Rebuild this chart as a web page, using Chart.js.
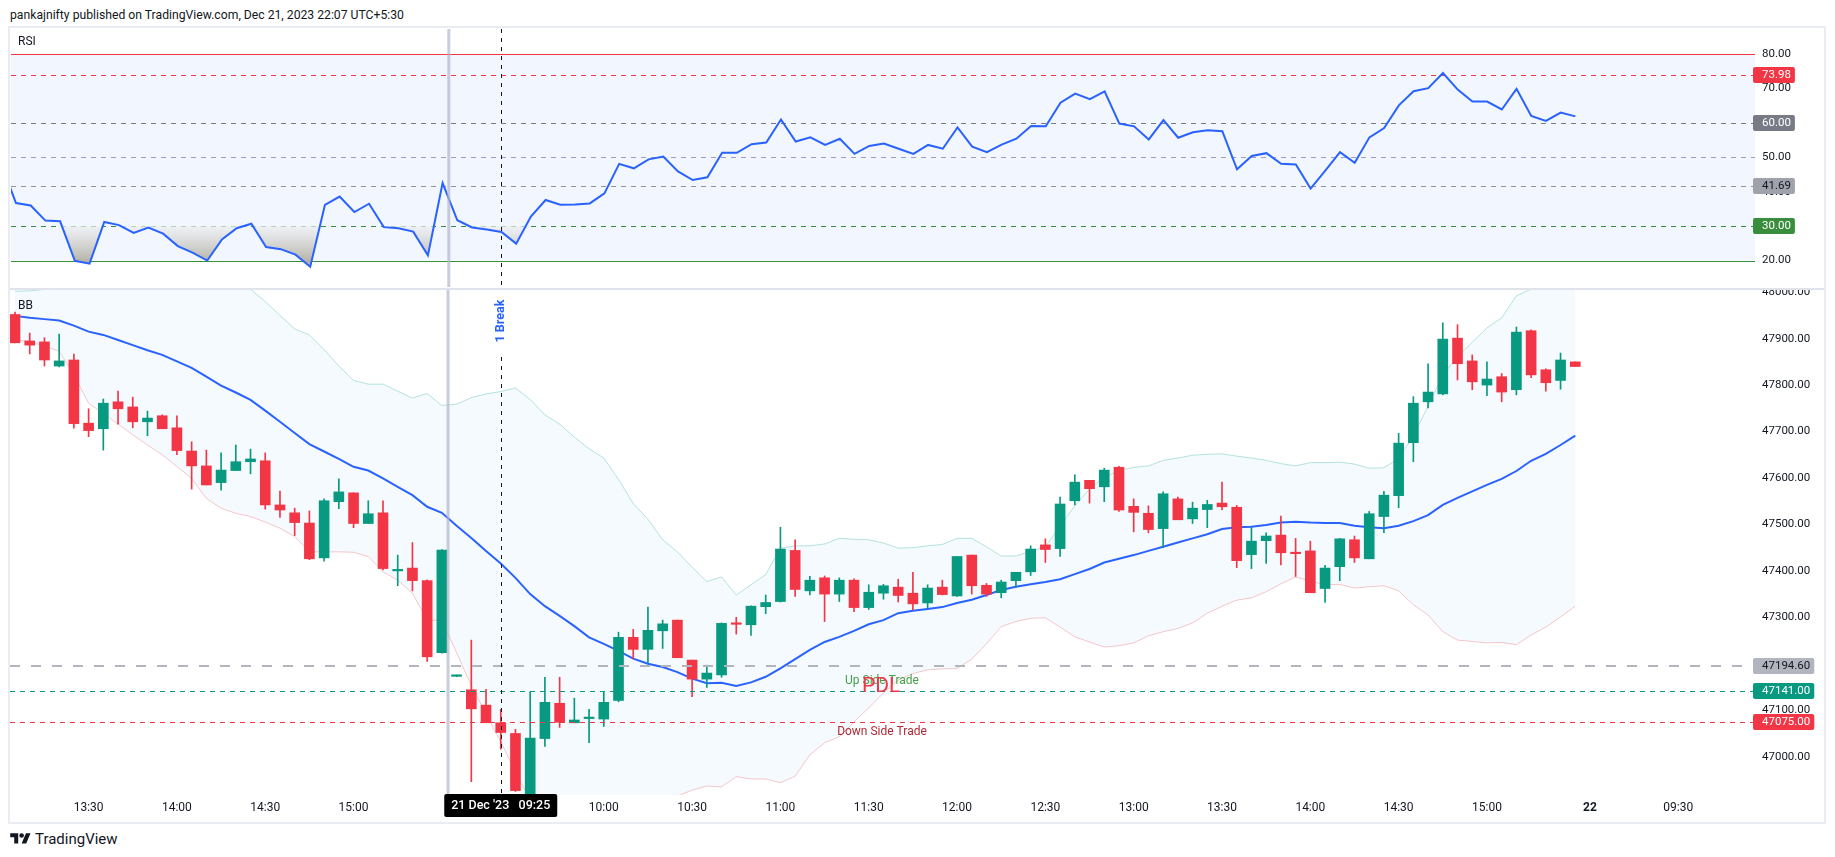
<!DOCTYPE html>
<html>
<head>
<meta charset="utf-8">
<script src="https://cdn.jsdelivr.net/npm/chart.js@4.4.1/dist/chart.umd.min.js"></script>
<style>
  body { margin: 0; background: #fff; }
  #page { position: relative; width: 1835px; height: 857px; overflow: hidden; font-family: Roboto, "Noto Sans", sans-serif; color: #131722; }
  #hdr { position: absolute; left: 10px; top: 6px; font-size: 12.2px; line-height: 18px; white-space: nowrap; }
  #frame { position: absolute; left: 8px; top: 26px; width: 1814px; height: 794px; border: 2px solid #e9ecf2; }
  #sep { position: absolute; left: 10px; top: 288px; width: 1814px; height: 2px; background: #e0e3eb; }
  canvas { position: absolute; left: 10px; }
  #rsiChart { top: 28px; }
  #priceChart { top: 290px; }
  #brand { position: absolute; left: 10px; top: 830px; height: 18px; display: flex; align-items: center; font-size: 15px; }
  #brand svg { margin-right: 4px; }
</style>
</head>
<body>
<div id="page">
  <div id="hdr">pankajnifty published on TradingView.com, Dec 21, 2023 22:07 UTC+5:30</div>
  <div id="frame"></div>
  <canvas id="rsiChart" width="1814" height="260"></canvas>
  <div id="sep"></div>
  <canvas id="priceChart" width="1814" height="530"></canvas>
  <div id="brand">
    <svg width="21" height="16" viewBox="0 0 36 28"><path d="M14 22H7V11H0V4h14v18zM28 22h-8l7.5-18h8L28 22z" fill="#131722"/><circle cx="20" cy="8" r="4" fill="#131722"/></svg>
    <span>TradingView</span>
  </div>
</div>
<script>
// ── Data ──────────────────────────────────────────────────
// 5-minute candles, index 0 = 21 Dec 13:05 ... index 106 = 22 Dec 15:30
const open = [47952,47895,47893,47841,47854,47718,47706,47764,47753,47721,
  47734,47708,47658,47626,47590,47616,47635,47637,47542,47525,
  47503,47428,47549,47568,47502,47525,47400,47406,47379,47224,
  47173,47144,47111,47073,47050,46900,47039,47115,47073,47082,
  47081,47121,47257,47231,47271,47294,47208,47167,47176,47287,
  47284,47323,47334,47444,47357,47385,47350,47380,47321,47352,
  47365,47352,47331,47365,47346,47434,47369,47353,47379,47398,
  47456,47448,47551,47595,47581,47623,47539,47524,47491,47555,
  47512,47532,47546,47537,47435,47465,47477,47438,47443,47362,
  47409,47467,47426,47517,47562,47676,47764,47781,47901,47852,
  47800,47818,47790,47917,47833,47810,47850];
const high = [47957,47912,47902,47910,47867,47749,47770,47787,47774,47744,
  47736,47734,47678,47660,47654,47671,47662,47654,47572,47535,
  47529,47555,47598,47568,47551,47551,47434,47461,47381,47446,
  47176,47251,47145,47102,47059,47140,47171,47171,47126,47102,
  47140,47268,47274,47322,47294,47294,47208,47197,47288,47300,
  47325,47348,47494,47467,47388,47389,47385,47383,47370,47371,
  47382,47397,47370,47380,47431,47434,47373,47380,47397,47454,
  47469,47559,47607,47595,47621,47625,47555,47540,47570,47559,
  47548,47552,47591,47541,47494,47482,47518,47470,47464,47412,
  47470,47475,47528,47571,47696,47775,47846,47934,47930,47865,
  47850,47825,47925,47919,47835,47869,47850];
const low = [47891,47867,47841,47839,47707,47689,47660,47716,47708,47691,
  47706,47650,47576,47585,47574,47616,47609,47533,47515,47476,
  47424,47421,47534,47493,47502,47402,47368,47357,47205,47223,
  47172,46946,47073,47016,46925,46880,47022,47063,47073,47030,
  47065,47118,47211,47201,47233,47213,47129,47149,47171,47264,
  47261,47308,47333,47345,47348,47291,47334,47312,47317,47339,
  47333,47316,47320,47348,47345,47350,47345,47342,47365,47390,
  47418,47431,47542,47546,47549,47528,47484,47482,47450,47510,
  47502,47493,47532,47407,47405,47416,47413,47388,47353,47332,
  47379,47418,47426,47482,47536,47635,47751,47779,47811,47790,
  47777,47764,47779,47816,47787,47791,47840];
const close = [47891,47886,47854,47852,47717,47702,47761,47749,47721,47729,
  47706,47659,47626,47585,47617,47635,47641,47542,47531,47504,
  47426,47551,47570,47502,47523,47405,47402,47379,47215,47445,
  47175,47103,47073,47052,46927,47040,47117,47074,47079,47084,
  47117,47257,47231,47272,47286,47213,47167,47180,47287,47285,
  47324,47332,47447,47360,47380,47350,47380,47321,47354,47368,
  47347,47329,47363,47349,47431,47368,47350,47376,47397,47447,
  47446,47544,47591,47577,47617,47531,47526,47489,47566,47510,
  47535,47543,47538,47422,47464,47475,47439,47437,47353,47406,
  47469,47428,47523,47563,47675,47761,47785,47899,47846,47807,
  47813,47785,47914,47822,47805,47854,47840];

// Bollinger Bands
const bbBasis = [47949,47945,47942,47939,47928,47915,47908,47897,47886,47875,
  47865,47851,47837,47818,47799,47784,47768,47745,47721,47697,
  47673,47657,47641,47624,47616,47599,47581,47563,47538,47525,
  47497,47471,47443,47416,47385,47350,47324,47303,47281,47257,
  47243,47228,47211,47200,47193,47182,47168,47158,47159,47152,
  47160,47172,47190,47210,47230,47247,47258,47271,47285,47294,
  47309,47314,47318,47322,47331,47338,47348,47359,47366,47371,
  47376,47382,47393,47404,47418,47426,47434,47443,47452,47461,
  47470,47479,47490,47494,47495,47499,47504,47506,47504,47503,
  47503,47497,47494,47492,47497,47507,47520,47542,47557,47571,
  47585,47598,47615,47637,47652,47671,47691];
const bbUpper = [48002,48003,48006,48012,48030,48045,48055,48062,48068,48070,
  48068,48062,48055,48045,48032,48018,48006,47980,47950,47921,
  47908,47876,47841,47810,47802,47802,47787,47772,47782,47756,
  47759,47773,47781,47786,47794,47769,47736,47716,47688,47663,
  47643,47597,47545,47511,47467,47441,47408,47377,47387,47348,
  47370,47392,47449,47454,47454,47458,47470,47468,47467,47460,
  47449,47450,47454,47457,47470,47470,47452,47432,47432,47442,
  47452,47497,47540,47576,47602,47616,47623,47626,47638,47643,
  47649,47651,47652,47647,47643,47638,47631,47626,47633,47633,
  47634,47630,47621,47622,47642,47690,47755,47822,47861,47892,
  47923,47945,47992,48007,48025,48040,48055];
const bbLower = [47897,47894,47884,47873,47822,47761,47739,47716,47693,47671,
  47650,47625,47599,47556,47535,47524,47517,47505,47492,47474,
  47441,47441,47441,47440,47431,47398,47380,47352,47294,47293,
  47224,47153,47092,47032,46967,46907,46870,46850,46840,46835,
  46840,46845,46860,46875,46895,46915,46928,46937,46935,46957,
  46952,46952,46944,46958,47004,47030,47043,47075,47105,47137,
  47165,47179,47187,47189,47190,47210,47243,47280,47291,47298,
  47299,47279,47258,47247,47236,47239,47245,47260,47269,47276,
  47288,47309,47324,47337,47342,47355,47372,47387,47378,47370,
  47371,47363,47366,47368,47357,47327,47305,47269,47251,47248,
  47245,47246,47241,47262,47279,47301,47324];

// RSI, first value belongs to the bar before index 0
const rsiStart = -1;
const rsi = [48,
  36.7,36.0,31.6,31.4,19.9,19.1,31.2,30.3,28.0,29.6,
  27.8,24.2,22.3,20.0,26.1,29.4,30.7,23.9,23.3,21.7,
  18.2,36.2,38.6,34.1,36.5,29.7,29.4,28.4,21.5,42.5,
  31.7,29.6,29.0,28.3,24.9,32.8,37.6,36.2,36.3,36.6,
  39.5,48.1,46.8,49.4,50.2,45.9,43.4,44.2,51.3,51.3,
  53.8,54.3,61.0,54.6,55.8,53.6,55.4,51.0,53.3,54.0,
  52.5,51.0,53.6,52.5,58.7,53.1,51.5,53.7,55.4,59.1,
  59.0,65.9,68.5,66.9,69.2,59.8,59.0,55.2,60.8,55.7,
  57.3,57.9,57.6,46.5,50.4,51.2,48.1,47.9,40.9,46.1,
  51.5,48.4,55.8,58.5,65.1,69.2,70.1,74.5,69.7,66.2,
  66.2,63.9,69.9,62.0,60.6,63.0,61.9];

// time axis
const tickIdx = [5, 11, 17, 23, 40, 46, 52, 58, 64, 70, 76, 82, 88, 94, 100, 107, 113];
const tickText = ['13:30','14:00','14:30','15:00','10:00','10:30','11:00','11:30','12:00','12:30','13:00','13:30','14:00','14:30','15:00','22','09:30'];
const X_MIN = -0.34, X_MAX = 118.21;
const sessionIdx = 29.42;   // grey vertical line
const crossIdx = 33;        // 21 Dec '23 09:25
const crossText = "21 Dec '23   09:25";

// price axis + levels
const priceTicks = [47000,47100,47200,47300,47400,47500,47600,47700,47800,47900,48000];
const priceLevels = [47194.6, 47141.0, 47075.0];
const priceLevelColors = ['#b2b5be', '#089981', '#f23645'];
const priceLevelTextColors = ['#131722', '#ffffff', '#ffffff'];

// RSI axis + levels
const rsiTicks = [20, 30, 40, 50, 60, 70, 80];
const rsiLevels = [80, 73.98, 60, 50, 41.69, 30, 20];
const rsiLevelColors = ['#f23645', '#f23645', '#787b86', '#a09cc4', '#8f929c', '#388e3c', '#388e3c'];
const rsiBoxLevels = [73.98, 60, 41.69, 30];
const rsiBoxColors = ['#f23645', '#787b86', '#9fa2ab', '#388e3c'];
const rsiBoxTextColors = ['#ffffff', '#ffffff', '#131722', '#ffffff'];

// text notes on the price pane (idx, price)
const notes = [
  { text: 'Up Side Trade', idx: 58.9, price: 47163, color: '#43a047', font: '12px' },
  { text: 'PDL', idx: 58.85, price: 47150, color: '#f23645', font: '21px' },
  { text: 'Down Side Trade', idx: 58.9, price: 47053, color: '#b22833', font: '12px' }
];

// ── Styles ────────────────────────────────────────────────
const FONT = "Roboto, 'Noto Sans', sans-serif";
const UP = '#089981', DOWN = '#f23645';
Chart.defaults.font.family = FONT;
Chart.defaults.color = '#131722';

const candleColors = open.map((o, i) => close[i] >= o ? UP : DOWN);

function xAxis(show) {
  return {
    type: 'linear', min: X_MIN, max: X_MAX, display: show, offset: false,
    grid: { display: false, drawTicks: false, offset: false },
    border: { display: false },
    ticks: {
      autoSkip: false, maxRotation: 0, padding: 6, color: '#131722',
      font: (c) => ({ size: 12, family: FONT, weight: tickText[c.index] === '22' ? 'bold' : 'normal' }),
      callback: (v, i) => tickText[i]
    },
    afterBuildTicks: s => { s.ticks = tickIdx.map(v => ({ value: v })); },
    afterFit: s => { s.height = show ? 25 : 0; s.paddingLeft = 0; s.paddingRight = 0; }
  };
}

function yAxis(min, max, ticks) {
  return {
    position: 'right', min, max,
    grid: { display: false, drawTicks: false },
    border: { display: false },
    ticks: { color: '#131722', font: { size: 11.5 }, padding: 7, callback: v => Number(v).toFixed(2) },
    afterBuildTicks: s => { s.ticks = ticks.map(v => ({ value: v })); },
    afterFit: s => { s.width = 69; s.paddingTop = 0; s.paddingBottom = 0; }
  };
}

function axisBox(ctx, left, y, text, bg, fg) {
  ctx.save();
  ctx.font = `11.5px ${FONT}`;
  const w = ctx.measureText(text).width + 13;
  ctx.fillStyle = bg;
  ctx.beginPath();
  ctx.roundRect(left - 2, Math.round(y) - 8, w, 16, 2);
  ctx.fill();
  ctx.fillStyle = fg;
  ctx.textBaseline = 'middle';
  ctx.textAlign = 'left';
  ctx.fillText(text, left + 7, Math.round(y) + 0.5);
  ctx.restore();
}

function vLine(ctx, x, top, bottom, color, width, dash) {
  ctx.save();
  ctx.strokeStyle = color;
  ctx.lineWidth = width;
  ctx.setLineDash(dash);
  ctx.beginPath();
  ctx.moveTo(x, top);
  ctx.lineTo(x, bottom);
  ctx.stroke();
  ctx.restore();
}

function hLine(ctx, area, y, color, width, dash) {
  ctx.save();
  ctx.strokeStyle = color;
  ctx.lineWidth = width;
  ctx.setLineDash(dash);
  ctx.beginPath();
  const yy = Math.round(y) + (width % 2 ? 0.5 : 0);
  ctx.moveTo(area.left, yy);
  ctx.lineTo(area.right, yy);
  ctx.stroke();
  ctx.restore();
}

// ── RSI pane ──────────────────────────────────────────────
const rsiPanePlugin = {
  id: 'rsiPane',
  beforeDatasetsDraw(chart) {
    const { ctx, chartArea: a, scales: { y } } = chart;
    const top = y.getPixelForValue(80), bot = y.getPixelForValue(20);
    ctx.save();
    ctx.fillStyle = 'rgba(41,98,255,0.06)';
    ctx.fillRect(a.left, top, a.right - a.left, bot - top);
    ctx.restore();
    rsiLevels.forEach((v, i) => {
      const solid = v === 80 || v === 20;
      hLine(ctx, a, y.getPixelForValue(v), rsiLevelColors[i], 1, solid ? [] : [5, 5]);
    });
  },
  afterDatasetsDraw(chart) {
    const { ctx, chartArea: a, scales: { x } } = chart;
    vLine(ctx, x.getPixelForValue(sessionIdx), a.top, a.bottom, 'rgba(178,183,204,0.7)', 3, []);
    vLine(ctx, Math.round(x.getPixelForValue(crossIdx)) + 0.5, a.top, a.bottom, '#131722', 1, [4, 5]);
  },
  afterDraw(chart) {
    const { ctx, scales: { y } } = chart;
    rsiBoxLevels.forEach((v, i) => {
      axisBox(ctx, y.left, y.getPixelForValue(v), v.toFixed(2), rsiBoxColors[i], rsiBoxTextColors[i]);
    });
    ctx.save();
    ctx.font = `12px ${FONT}`;
    ctx.fillStyle = '#131722';
    ctx.textBaseline = 'middle';
    ctx.fillText('RSI', 8, 14);
    ctx.restore();
  }
};

const rsiChart = new Chart(document.getElementById('rsiChart'), {
  type: 'line',
  data: {
    datasets: [{
      label: 'RSI',
      data: rsi.map((v, i) => ({ x: i + rsiStart, y: v })),
      borderColor: '#2962ff',
      borderWidth: 2,
      pointRadius: 0,
      tension: 0,
      fill: { target: { value: 30 }, above: 'rgba(0,0,0,0)', below: 'rgba(200,200,195,0.6)' }
    }]
  },
  options: {
    responsive: false,
    devicePixelRatio: 1,
    animation: false,
    layout: { padding: 0 },
    plugins: { legend: { display: false }, tooltip: { enabled: false } },
    scales: {
      x: xAxis(false),
      y: yAxis(12.3, 87.3, rsiTicks)
    }
  },
  plugins: [rsiPanePlugin]
});

// oversold gradient, from the 30 line down to the 20 line
(function () {
  const ys = rsiChart.scales.y;
  const g = rsiChart.ctx.createLinearGradient(0, ys.getPixelForValue(30), 0, ys.getPixelForValue(20));
  g.addColorStop(0, 'rgba(236,238,240,0.7)');
  g.addColorStop(1, 'rgba(178,176,164,0.95)');
  rsiChart.data.datasets[0].fill.below = g;
  rsiChart.update('none');
})();

// ── Price pane ────────────────────────────────────────────
const pricePanePlugin = {
  id: 'pricePane',
  afterDatasetsDraw(chart) {
    const { ctx, chartArea: a, scales: { x, y } } = chart;
    ctx.save();
    ctx.beginPath();
    ctx.rect(a.left, a.top, a.right - a.left, a.bottom - a.top);
    ctx.clip();
    hLine(ctx, a, y.getPixelForValue(priceLevels[0]), priceLevelColors[0], 2, [10, 11]);
    hLine(ctx, a, y.getPixelForValue(priceLevels[1]), priceLevelColors[1], 1, [5, 5]);
    hLine(ctx, a, y.getPixelForValue(priceLevels[2]), priceLevelColors[2], 1, [5, 5]);

    const cx = Math.round(x.getPixelForValue(crossIdx)) + 0.5;
    vLine(ctx, x.getPixelForValue(sessionIdx), a.top, a.bottom, 'rgba(178,183,204,0.7)', 3, []);
    vLine(ctx, cx, a.top + 67, a.bottom, '#131722', 1, [4, 5]);

    // vertical line label
    ctx.save();
    ctx.translate(cx - 1, a.top + 31);
    ctx.rotate(-Math.PI / 2);
    ctx.font = `bold 12.5px ${FONT}`;
    ctx.fillStyle = '#2962ff';
    ctx.textAlign = 'center';
    ctx.textBaseline = 'middle';
    ctx.fillText('1 Break', 0, 0);
    ctx.restore();

    notes.forEach(n => {
      ctx.font = `${n.font} ${FONT}`;
      ctx.fillStyle = n.color;
      ctx.textAlign = 'center';
      ctx.textBaseline = 'middle';
      ctx.fillText(n.text, x.getPixelForValue(n.idx), y.getPixelForValue(n.price));
    });

    ctx.font = `12px ${FONT}`;
    ctx.fillStyle = '#131722';
    ctx.textAlign = 'left';
    ctx.fillText('BB', 8, a.top + 16);
    ctx.restore();
  },
  afterDraw(chart) {
    const { ctx, chartArea: a, scales: { x, y } } = chart;
    priceLevels.forEach((v, i) => {
      axisBox(ctx, y.left, y.getPixelForValue(v), v.toFixed(2), priceLevelColors[i], priceLevelTextColors[i]);
    });
    // crosshair time label
    const cx = x.getPixelForValue(crossIdx);
    ctx.save();
    ctx.fillStyle = '#000';
    ctx.beginPath();
    ctx.roundRect(cx - 56.5, a.bottom - 1, 113, 23, 2);
    ctx.fill();
    ctx.fillStyle = '#fff';
    ctx.font = `500 12.5px ${FONT}`;
    ctx.textAlign = 'center';
    ctx.textBaseline = 'middle';
    ctx.fillText(crossText, cx, a.bottom + 11);
    ctx.restore();
  }
};

const idx = open.map((_, i) => i);

new Chart(document.getElementById('priceChart'), {
  type: 'bar',
  data: {
    datasets: [
      {
        type: 'line', label: 'BB upper',
        data: bbUpper.map((v, i) => ({ x: i, y: v })),
        borderColor: 'rgba(34,171,148,0.32)', borderWidth: 1, pointRadius: 0,
        fill: '+1', backgroundColor: 'rgba(33,150,243,0.05)', order: 5
      },
      {
        type: 'line', label: 'BB lower',
        data: bbLower.map((v, i) => ({ x: i, y: v })),
        borderColor: 'rgba(242,54,69,0.28)', borderWidth: 1, pointRadius: 0,
        fill: false, order: 5
      },
      {
        type: 'line', label: 'BB basis',
        data: bbBasis.map((v, i) => ({ x: i, y: v })),
        borderColor: '#2962ff', borderWidth: 2, pointRadius: 0,
        fill: false, order: 4
      },
      {
        type: 'bar', label: 'wick',
        data: idx.map(i => ({ x: i, y: [low[i], high[i]] })),
        backgroundColor: candleColors, barThickness: 1, grouped: false, order: 2
      },
      {
        type: 'bar', label: 'body',
        data: idx.map(i => ({ x: i, y: [open[i], close[i]] })),
        backgroundColor: candleColors, barThickness: 10, minBarLength: 1.5, grouped: false, order: 1
      }
    ]
  },
  options: {
    responsive: false,
    devicePixelRatio: 1,
    animation: false,
    layout: { padding: 0 },
    plugins: { legend: { display: false }, tooltip: { enabled: false } },
    scales: {
      x: xAxis(true),
      y: yAxis(46917.5, 48004.7, priceTicks)
    }
  },
  plugins: [pricePanePlugin]
});
</script>
</body>
</html>
